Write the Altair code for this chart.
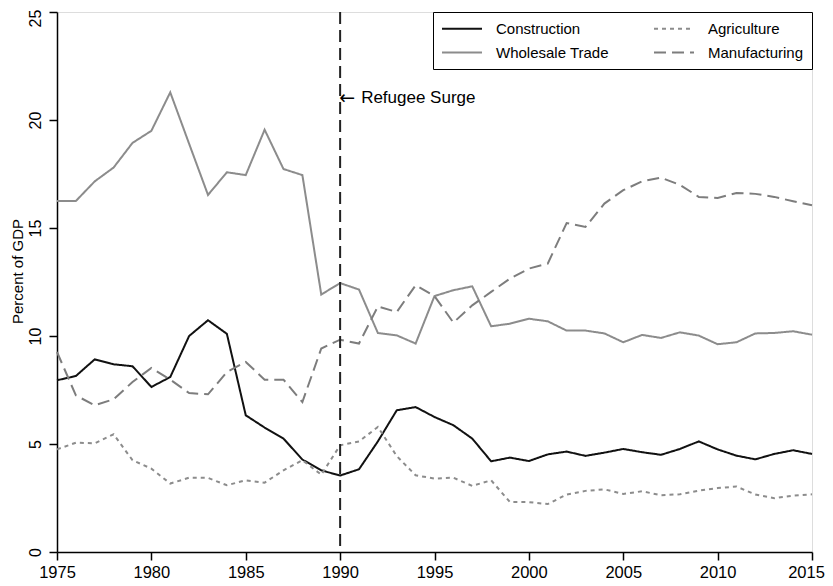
import altair as alt
import pandas as pd

years = list(range(1975, 2016))

construction = [7.95, 8.15, 8.92, 8.69, 8.6, 7.64, 8.1, 10.0, 10.73, 10.1,
                6.33, 5.76, 5.25, 4.28, 3.78, 3.54, 3.83, 5.12, 6.56, 6.71,
                6.25, 5.87, 5.25, 4.2, 4.37, 4.21, 4.52, 4.65, 4.45, 4.6,
                4.77, 4.62, 4.5, 4.77, 5.12, 4.75, 4.46, 4.29, 4.54, 4.71, 4.54]

wholesale = [16.25, 16.25, 17.16, 17.8, 18.94, 19.5, 21.28, 18.9, 16.53, 17.58,
             17.45, 19.55, 17.73, 17.45, 11.92, 12.45, 12.15, 10.14, 10.03, 9.65,
             11.85, 12.12, 12.3, 10.45, 10.57, 10.8, 10.68, 10.25, 10.25, 10.12,
             9.71, 10.05, 9.91, 10.17, 10.02, 9.62, 9.71, 10.12, 10.14, 10.22, 10.06]

agriculture = [4.75, 5.06, 5.03, 5.45, 4.25, 3.86, 3.17, 3.44, 3.43, 3.09,
               3.32, 3.21, 3.78, 4.25, 3.58, 4.94, 5.12, 5.79, 4.44, 3.55,
               3.4, 3.44, 3.06, 3.32, 2.31, 2.31, 2.22, 2.66, 2.83, 2.9,
               2.69, 2.81, 2.63, 2.67, 2.84, 2.96, 3.03, 2.66, 2.49, 2.61, 2.67]

manufacturing = [9.26, 7.25, 6.79, 7.07, 7.87, 8.52, 7.98, 7.36, 7.3, 8.33,
                 8.8, 7.98, 7.98, 6.94, 9.42, 9.83, 9.65, 11.37, 11.11, 12.35,
                 11.85, 10.62, 11.42, 12.04, 12.66, 13.12, 13.35, 15.23, 15.05, 16.13,
                 16.75, 17.16, 17.33, 17.0, 16.44, 16.39, 16.62, 16.58, 16.44, 16.24, 16.05]

series_names = ["Construction", "Agriculture", "Wholesale Trade", "Manufacturing"]
series_values = [construction, agriculture, wholesale, manufacturing]
series_colors = ["#111111", "#8c8c8c", "#8c8c8c", "#7d7d7d"]
series_dashes = [[1, 0], [4, 4], [1, 0], [12, 6]]

surge_year = [1990]
surge_arrow = ["\u2190"]
surge_label = ["Refugee Surge"]
surge_label_y = [21]

rows = []
for name, vals in zip(series_names, series_values):
    for y, v in zip(years, vals):
        rows.append({"year": y, "value": v, "series": name})
df = pd.DataFrame(rows)

FONT = "Liberation Sans"

x_enc = alt.X("year:Q",
              scale=alt.Scale(domain=[1975, 2015], nice=False, zero=False),
              axis=alt.Axis(values=list(range(1975, 2016, 5)), format="d", title=None,
                            grid=False, labelFontSize=16.5, labelFont=FONT, labelColor="black",
                            tickSize=8, tickWidth=1.5, tickColor="black",
                            domainColor="black", domainWidth=1.5, labelPadding=4,
                            labelOffset={"condition": {"test": "datum.value == 2015", "value": -6},
                                         "value": 0},
                            labelFlush=False))
y_enc = alt.Y("value:Q",
              scale=alt.Scale(domain=[0, 25], nice=False),
              axis=alt.Axis(values=[0, 5, 10, 15, 20, 25], title="Percent of GDP", grid=False,
                            labelFontSize=16, labelFont=FONT, labelColor="black",
                            labelAngle=-90, labelAlign="center", labelBaseline="bottom",
                            labelPadding=6, tickSize=8, tickWidth=1.5, tickColor="black",
                            labelOffset={"condition": {"test": "datum.value == 25", "value": 6},
                                         "value": 0},
                            domainColor="black", domainWidth=1.5,
                            titleFontSize=15, titleFont=FONT, titleFontWeight="normal",
                            titleColor="black", titleAngle=270, titleAlign="center",
                            titleBaseline="alphabetic", titleX=-35, titleY=259))

lines = alt.Chart(df).mark_line(strokeWidth=2).encode(
    x=x_enc,
    y=y_enc,
    color=alt.Color("series:N",
                    scale=alt.Scale(domain=series_names, range=series_colors),
                    legend=alt.Legend(title=None, orient="top-right", offset=0, columns=2,
                                      symbolType="M-1,0H4.333", symbolSize=225,
                                      symbolStrokeWidth=2, labelFontSize=15,
                                      labelFont=FONT, labelColor="black", labelOffset=38,
                                      columnPadding=41, rowPadding=7, padding=8,
                                      strokeColor="black", fillColor="white",
                                      direction="horizontal")),
    strokeDash=alt.StrokeDash("series:N",
                              scale=alt.Scale(domain=series_names, range=series_dashes),
                              legend=None),
    order="year:Q",
)

vdf = pd.DataFrame({"year": surge_year, "value": surge_label_y,
                    "arrow": surge_arrow, "label": surge_label})

vline = alt.Chart(vdf).mark_rule(color="#222222", strokeWidth=2, strokeDash=[12, 6]).encode(
    x="year:Q"
)

arrow = alt.Chart(vdf).mark_text(align="left", baseline="middle", fontSize=19,
                                 font="DejaVu Sans", color="black", dx=-1).encode(
    x="year:Q", y="value:Q", text="arrow:N"
)

annot = alt.Chart(vdf).mark_text(align="left", baseline="middle", fontSize=17, font=FONT,
                                 color="black", dx=21).encode(
    x="year:Q", y="value:Q", text="label:N"
)

chart = alt.layer(lines, vline, arrow, annot).properties(
    width=755, height=540,
    autosize=alt.AutoSizeParams(type="none"),
    padding={"left": 49, "top": 4, "right": 13, "bottom": 30},
).configure_view(stroke="black", strokeWidth=1.5).configure(background="white")

chart.save("out.html", embed_options={"renderer": "svg", "actions": False})
